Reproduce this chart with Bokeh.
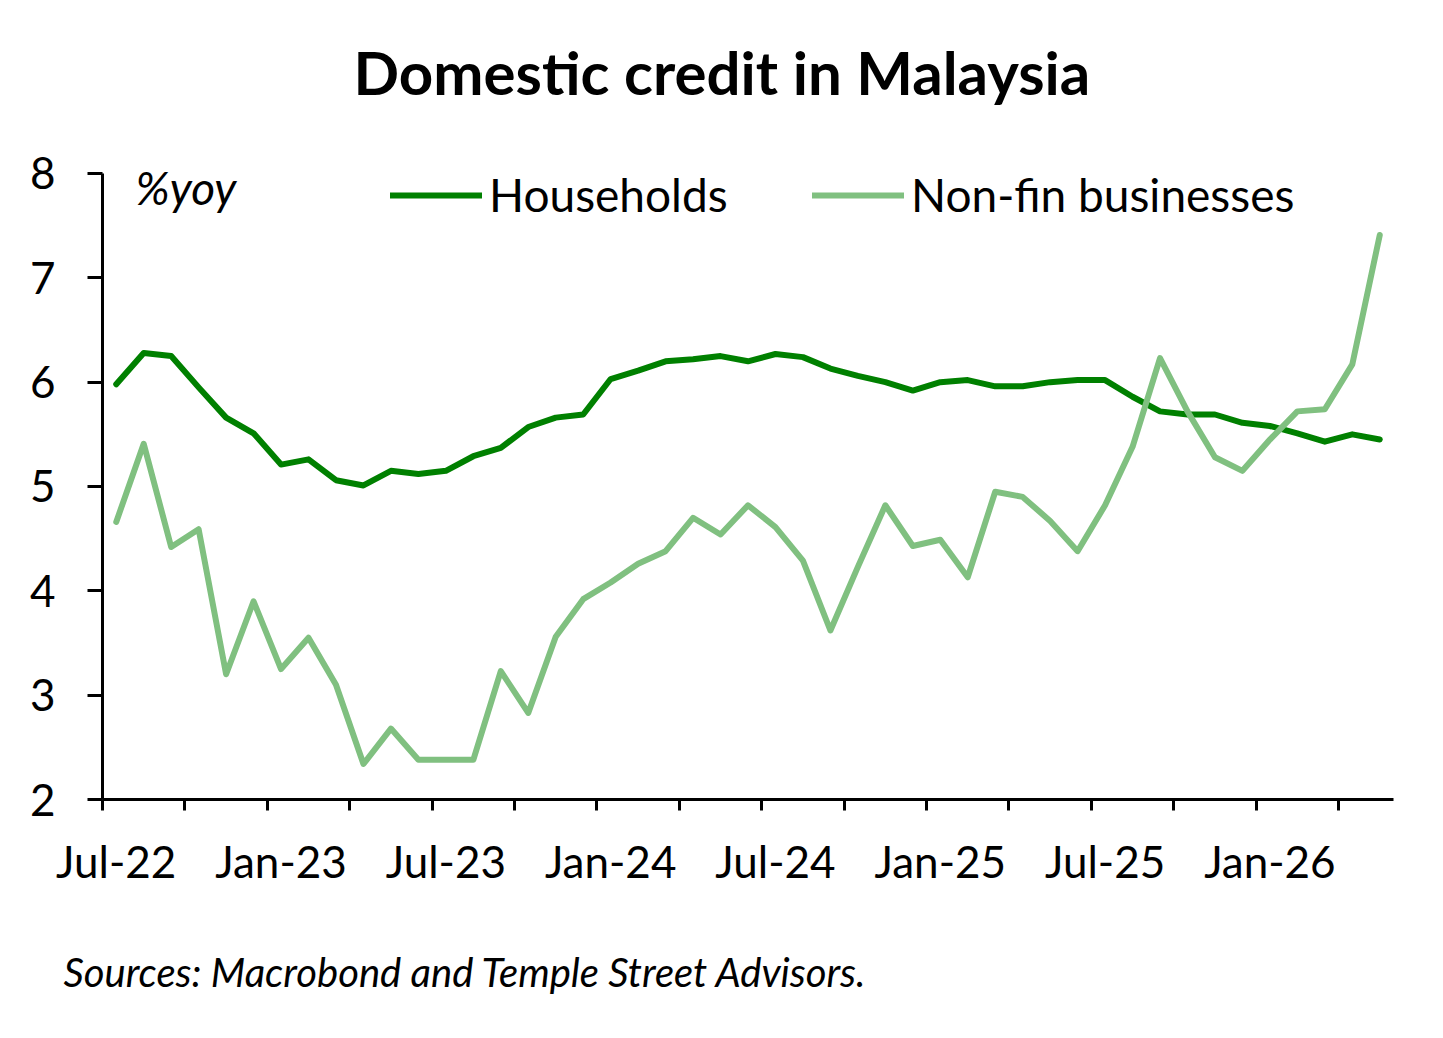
from bokeh.plotting import figure
from bokeh.models import FixedTicker, Range1d, Label, Legend, LegendItem, Title
from bokeh.layouts import column
from bokeh.embed import file_html
from bokeh.resources import INLINE

# ---- data (monthly, Jul-22 .. May-26, % y/y) ----
households = [5.98, 6.28, 6.25, 5.95, 5.66, 5.51, 5.21, 5.26, 5.06, 5.01, 5.15, 5.12,
              5.15, 5.29, 5.37, 5.57, 5.66, 5.69, 6.03, 6.11, 6.20, 6.22, 6.25, 6.20,
              6.27, 6.24, 6.13, 6.06, 6.00, 5.92, 6.00, 6.02, 5.96, 5.96, 6.00, 6.02,
              6.02, 5.86, 5.72, 5.69, 5.69, 5.61, 5.58, 5.51, 5.43, 5.50, 5.45]
nonfin = [4.66, 5.41, 4.42, 4.59, 3.20, 3.90, 3.25, 3.55, 3.10, 2.34, 2.68, 2.38,
          2.38, 2.38, 3.23, 2.83, 3.56, 3.92, 4.08, 4.26, 4.38, 4.70, 4.54, 4.82,
          4.61, 4.29, 3.62, 4.23, 4.82, 4.43, 4.49, 4.13, 4.95, 4.90, 4.67, 4.38,
          4.82, 5.38, 6.23, 5.72, 5.28, 5.15, 5.45, 5.72, 5.74, 6.17, 7.41]
tick_labels = ["Jul-22", "Jan-23", "Jul-23", "Jan-24", "Jul-24", "Jan-25", "Jul-25", "Jan-26"]
y_ticks = [2, 3, 4, 5, 6, 7, 8]
series_names = ["Households", "Non-fin businesses"]
title_text = "Domestic credit in Malaysia"
source_text = "Sources: Macrobond and Temple Street Advisors."

DARK = "#008000"
LIGHT = "#80C080"
FONT = "Lato"

n = len(households)
x = [i + 0.5 for i in range(n)]

# main chart: frame reaches the top of the canvas so the title can sit inside it;
# the y axis itself is bounded to 2..8
p = figure(width=1427, height=940, output_backend="svg", toolbar_location=None,
           x_range=Range1d(0, n), y_range=Range1d(2, 9.658),
           min_border_left=102, min_border_right=34, min_border_top=0, min_border_bottom=141)
p.outline_line_color = None
p.xgrid.visible = False
p.ygrid.visible = False

r1 = p.line(x, households, line_color=DARK, line_width=6, line_join="round", line_cap="round")
r2 = p.line(x, nonfin, line_color=LIGHT, line_width=6, line_join="round", line_cap="round")

# x axis: labels mid-month every 6 months, tick marks every 3 months at month boundaries
label_pos = [6 * k + 0.5 for k in range(len(tick_labels))]
p.xaxis.ticker = FixedTicker(ticks=label_pos, minor_ticks=list(range(0, n - 1, 3)))
p.xaxis.major_label_overrides = {pos: lab for pos, lab in zip(label_pos, tick_labels)}
p.xaxis.major_tick_line_color = None
p.xaxis.major_tick_out = 0
p.xaxis.major_tick_in = 0
p.xaxis.minor_tick_out = 11
p.xaxis.minor_tick_in = 0
p.xaxis.minor_tick_line_width = 3
p.xaxis.minor_tick_line_color = "black"
p.xaxis.major_label_standoff = 24

p.yaxis.ticker = FixedTicker(ticks=y_ticks)
p.yaxis.bounds = (min(y_ticks), max(y_ticks))
p.yaxis.major_tick_out = 15
p.yaxis.major_tick_in = 0
p.yaxis.major_tick_line_width = 3
p.yaxis.minor_tick_line_color = None
p.yaxis.major_label_standoff = 32

for ax in (p.xaxis, p.yaxis):
    ax.axis_line_width = 3
    ax.axis_line_color = "black"
    ax.major_label_text_font = FONT
    ax.major_label_text_font_size = "44px"
    ax.major_label_text_color = "black"

# legends (two, each placed separately)
common = dict(label_text_font=FONT, label_text_font_size="46px", label_text_color="black",
              glyph_width=92, glyph_height=20, label_standoff=7, padding=0, margin=0,
              spacing=0, border_line_color=None, background_fill_alpha=0,
              orientation="horizontal")
lg1 = Legend(items=[LegendItem(label=series_names[0], renderers=[r1])], location=(288, 577), **common)
lg2 = Legend(items=[LegendItem(label=series_names[1], renderers=[r2])], location=(710, 577), **common)
p.add_layout(lg1)
p.add_layout(lg2)

p.add_layout(Label(x=1.2, y=7.87, text="%yoy", text_font=FONT, text_font_size="46px",
                   text_font_style="italic", text_baseline="alphabetic", text_color="black"))
p.add_layout(Label(x=22.55, y=8.968, text=title_text, text_font=FONT, text_font_size="60px",
                   text_font_style="bold", text_align="center", text_baseline="alphabetic",
                   text_color="black"))

# source note: title of a small strip below the chart
s = figure(width=1427, height=82, output_backend="svg", toolbar_location=None,
           x_range=Range1d(0, 1), y_range=Range1d(0, 1),
           x_axis_location=None, y_axis_location=None,
           min_border_left=102, min_border_right=34, min_border_top=0, min_border_bottom=0)
s.outline_line_color = None
s.xgrid.visible = False
s.ygrid.visible = False
s.title = Title(text=source_text, align="left", offset=-39, standoff=10,
                text_font=FONT, text_font_size="40px", text_font_style="italic",
                text_color="black")

layout = column(p, s, spacing=0)
open("out.html", "w").write(file_html(layout, INLINE))
